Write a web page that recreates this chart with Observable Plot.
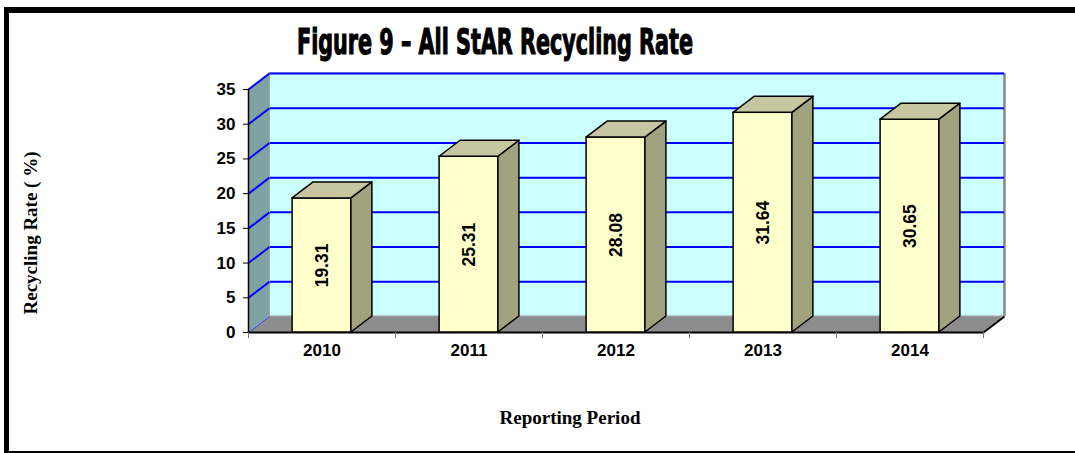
<!DOCTYPE html>
<html><head><meta charset="utf-8">
<script src="https://cdn.jsdelivr.net/npm/d3@7"></script>
<script src="https://cdn.jsdelivr.net/npm/@observablehq/plot@0.6"></script>
<style>
html,body{margin:0;padding:0;width:1075px;height:453px;overflow:hidden;background:#fff;}
#frame{position:absolute;left:4px;top:7px;width:1120px;height:446px;box-sizing:border-box;border-left:5px solid #000;border-top:6px solid #000;border-bottom:2px solid #000;}
#title{position:absolute;left:0;top:0;}
#chart{position:absolute;left:0;top:62px;}
</style></head><body>
<div id="frame"></div>
<svg id="title" width="1075" height="62"><text x="297" y="54" textLength="396" lengthAdjust="spacingAndGlyphs" font-family="'DejaVu Sans Condensed','Liberation Sans Narrow','DejaVu Sans',sans-serif" font-weight="bold" font-stretch="condensed" font-size="35" stroke="#000" stroke-width="1.1">Figure 9 – All StAR Recycling Rate</text></svg>
<div id="chart"></div>
<script>
const years = ["2010", "2011", "2012", "2013", "2014"];
const rates = [19.31, 25.31, 28.08, 31.64, 30.65];
const yTicks = [0, 5, 10, 15, 20, 25, 30, 35];
const yTitle = "Recycling Rate ( %)";
const xTitle = "Reporting Period";

const W = 1075, H = 391, mL = 248, mR = 92, mT = 27, mB = 121;
const plotW = W - mL - mR, plotH = H - mT - mB;
const n = years.length, yMax = yTicks[yTicks.length - 1];
const ddx = 21 * n / plotW, ddy = 16 * yMax / plotH;

const bars = years.map((y, i) => ({i, year: y, v: rates[i]}));
const sidePts = bars.flatMap(d => [
  {i: d.i, x: d.i + 0.7, y1: 0, y2: d.v},
  {i: d.i, x: d.i + 0.7 + ddx, y1: ddy, y2: d.v + ddy}
]);
const topPts = bars.flatMap(d => [
  {i: d.i, y: d.v, x1: d.i + 0.3, x2: d.i + 0.7},
  {i: d.i, y: d.v + ddy, x1: d.i + 0.3 + ddx, x2: d.i + 0.7 + ddx}
]);
const wall = [{x1: ddx, x2: n + ddx, y1: ddy, y2: yMax + ddy}];
const leftWall = [{x: 0, y1: 0, y2: yMax}, {x: ddx, y1: ddy, y2: yMax + ddy}];
const floor = [{y: 0, x1: 0, x2: n}, {y: ddy, x1: ddx, x2: n + ddx}];
const bounds = d3.range(n + 1);
const centers = bars.map(d => d.i + 0.5);

const serif = "'Liberation Serif','Times New Roman',serif";

const chart = Plot.plot({
  width: W, height: H,
  marginLeft: mL, marginRight: mR, marginTop: mT, marginBottom: mB,
  style: {background: "transparent", fontFamily: "'Liberation Sans',Arial,sans-serif", fontSize: "17px", fontWeight: "bold", color: "#000"},
  x: {type: "linear", domain: [0, n], axis: null},
  y: {domain: [0, yMax], axis: null},
  marks: [
    Plot.rect(wall, {x1: "x1", x2: "x2", y1: "y1", y2: "y2", fill: "#ccffff", stroke: "#9a9a9a", strokeWidth: 1}),
    Plot.ruleX([n + ddx], {y1: ddy, y2: yMax + ddy, stroke: "#8a8a8a", strokeWidth: 2.5}),
    Plot.ruleY(yTicks.slice(1), {y: d => d + ddy, x1: ddx, x2: n + ddx, stroke: "#0000ff", strokeWidth: 2}),
    Plot.areaY(leftWall, {x: "x", y1: "y1", y2: "y2", fill: "#7fa3a3", curve: "linear"}),
    Plot.ruleX([ddx], {y1: ddy, y2: yMax + ddy, stroke: "#9ab", strokeWidth: 1}),
    Plot.link(yTicks.slice(1), {x1: 0, y1: d => d, x2: ddx, y2: d => d + ddy, stroke: "#0000ff", strokeWidth: 2}),
    Plot.areaX(floor, {y: "y", x1: "x1", x2: "x2", fill: "#8c8c8c", curve: "linear"}),
    Plot.ruleY([ddy], {x1: ddx, x2: n + ddx, stroke: "#9a9aaa", strokeWidth: 1}),
    Plot.link([0], {x1: 0, y1: 0, x2: ddx, y2: ddy, stroke: "#4040ff", strokeWidth: 1}),
    Plot.link([0], {x1: n, y1: 0, x2: n + ddx, y2: ddy, stroke: "#000", strokeWidth: 2}),
    Plot.ruleY([0], {x1: 0, x2: n, stroke: "#000", strokeWidth: 2}),
    Plot.rect(bars, {x1: d => d.i + 0.3, x2: d => d.i + 0.7, y1: 0, y2: "v", fill: "#ffffcc", stroke: "#000", strokeWidth: 1.5}),
    Plot.areaY(sidePts, {x: "x", y1: "y1", y2: "y2", z: "i", fill: "#a3a27e", stroke: "#000", strokeWidth: 1.5, curve: "linear"}),
    Plot.areaX(topPts, {y: "y", x1: "x1", x2: "x2", z: "i", fill: "#c8c6a0", stroke: "#000", strokeWidth: 1.5, curve: "linear"}),
    Plot.text(bars, {x: d => d.i + 0.5, y: d => d.v / 2, text: d => d.v.toFixed(2), rotate: -90, fontSize: 17.5, fontWeight: "bold"}),
    Plot.ruleX([0], {y1: 0, y2: yMax, stroke: "#000", strokeWidth: 1.5}),
    Plot.axisY({ticks: yTicks, tickSize: 5, tickPadding: 8, label: null, tickFormat: d => String(d)}),
    Plot.axisX({ticks: bounds, tickSize: 6, tickFormat: () => "", label: null, stroke: "#777"}),
    Plot.axisX({ticks: centers, tickSize: 0, tickPadding: 11, label: null, tickFormat: d => years[Math.floor(d)]}),
    Plot.text([yTitle], {frameAnchor: "left", dx: -218, dy: 22, rotate: -90, textAnchor: "middle", fontFamily: serif, fontSize: 19, fontWeight: "bold"}),
    Plot.text([xTitle], {frameAnchor: "bottom", dx: -46, dy: 91, textAnchor: "middle", fontFamily: serif, fontSize: 19, fontWeight: "bold"})
  ]
});
document.getElementById("chart").appendChild(chart);
</script>
</body></html>
